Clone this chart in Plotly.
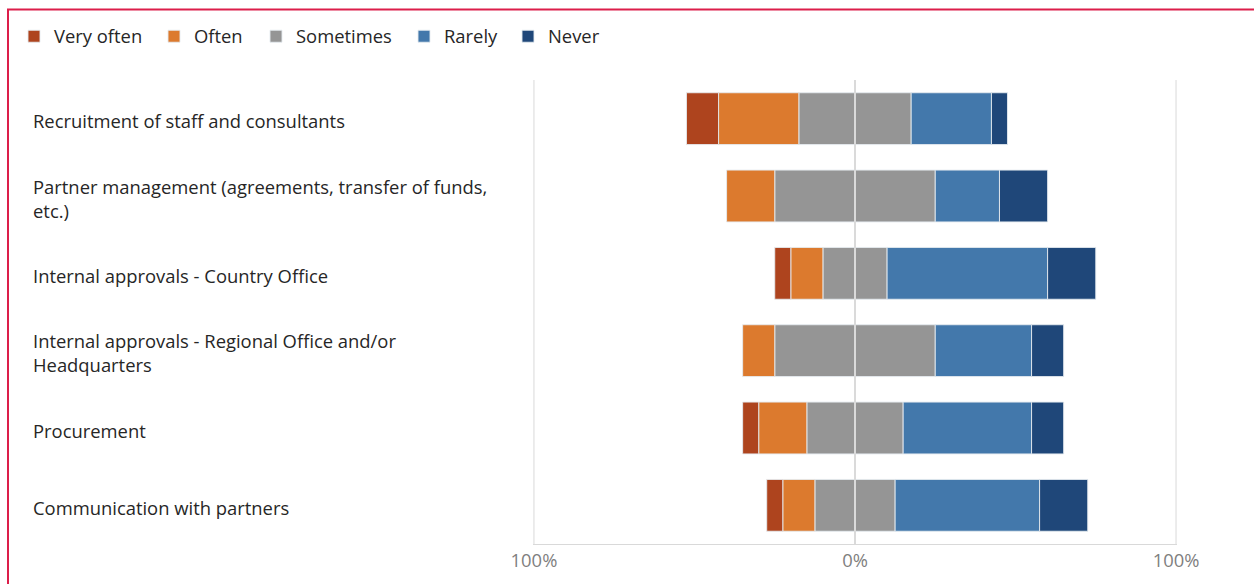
import plotly.graph_objects as go

# Survey results: share of responses per frequency level (percent)
categories = [
    "Recruitment of staff and consultants",
    "Partner management (agreements, transfer of funds,<br>etc.)",
    "Internal approvals - Country Office",
    "Internal approvals - Regional Office and/or<br>Headquarters",
    "Procurement",
    "Communication with partners",
]
very_often = [10, 0, 5, 0, 5, 5]
often = [25, 15, 10, 10, 15, 10]
sometimes = [35, 50, 20, 50, 30, 25]
rarely = [25, 20, 50, 30, 40, 45]
never = [5, 15, 15, 10, 10, 15]

tick_vals = [-100, 0, 100]
tick_text = ["100%", "0%", "100%"]

colors = {
    "Very often": "#AE441E",
    "Often": "#DC7A2E",
    "Sometimes": "#959595",
    "Rarely": "#4378AB",
    "Never": "#1F4779",
}

W, H = 1254, 584
ML, MR, MT, MB = 533, 77, 80, 37
PW = W - ML - MR
PH = H - MT - MB


def px_x(px):
    return (px - ML) / PW


def px_y(py):
    return (H - MB - py) / PH


FONT = "Open Sans"
TEXT_SIZE = 18.4
edge = dict(color="rgba(230,235,240,0.9)", width=1)

fig = go.Figure()

# Negative side stacks outward from zero: half of "Sometimes", then Often, then Very often
half_some = [s / 2 for s in sometimes]
fig.add_trace(go.Bar(y=categories, x=[-v for v in half_some], orientation="h",
                     name="Sometimes", marker=dict(color=colors["Sometimes"], line=edge),
                     showlegend=False, legendgroup="Sometimes"))
fig.add_trace(go.Bar(y=categories, x=[-v for v in often], orientation="h",
                     name="Often", marker=dict(color=colors["Often"], line=edge),
                     legend="legend2"))
fig.add_trace(go.Bar(y=categories, x=[-v for v in very_often], orientation="h",
                     name="Very often", marker=dict(color=colors["Very often"], line=edge),
                     legend="legend"))
# Positive side
fig.add_trace(go.Bar(y=categories, x=half_some, orientation="h",
                     name="Sometimes", marker=dict(color=colors["Sometimes"], line=edge),
                     legend="legend3", legendgroup="Sometimes"))
fig.add_trace(go.Bar(y=categories, x=rarely, orientation="h",
                     name="Rarely", marker=dict(color=colors["Rarely"], line=edge),
                     legend="legend4"))
fig.add_trace(go.Bar(y=categories, x=never, orientation="h",
                     name="Never", marker=dict(color=colors["Never"], line=edge),
                     legend="legend5"))

legend_font = dict(family=FONT, size=TEXT_SIZE, color="#262626")
legend_x_px = [14, 154, 256, 404, 508]
legend_common = dict(orientation="h", yanchor="middle", y=px_y(36), xanchor="left",
                     font=legend_font, bgcolor="rgba(0,0,0,0)", borderwidth=0,
                     itemwidth=30)
legends = {}
for i, lx in enumerate(legend_x_px):
    key = "legend" if i == 0 else f"legend{i + 1}"
    legends[key] = dict(legend_common, x=px_x(lx))

# Category labels, left-aligned
annotations = []
for cat in categories:
    annotations.append(dict(
        x=px_x(31), xref="paper", y=cat, yref="y", text=cat,
        xanchor="left", yanchor="middle", align="left", showarrow=False,
        yshift=-2,
        font=dict(family=FONT, size=TEXT_SIZE, color="#262626"),
    ))

grid_color = "#D9D9D9"
shapes = [
    # outer gridlines at the axis ends
    dict(type="line", xref="x", yref="paper", x0=tick_vals[0], x1=tick_vals[0], y0=0, y1=1,
         line=dict(color=grid_color, width=1), layer="below"),
    dict(type="line", xref="x", yref="paper", x0=tick_vals[-1], x1=tick_vals[-1], y0=0, y1=1,
         line=dict(color=grid_color, width=1), layer="below"),
    # zero line drawn over the bars
    dict(type="line", xref="x", yref="paper", x0=0, x1=0, y0=0, y1=1,
         line=dict(color="#DADADA", width=2), layer="above"),
    # outer frame
    dict(type="rect", xref="paper", yref="paper",
         x0=px_x(8), x1=px_x(1300), y0=px_y(640), y1=px_y(9),
         line=dict(color="#DC1E4A", width=2), layer="above"),
]

fig.update_layout(
    width=W, height=H,
    margin=dict(l=ML, r=MR, t=MT, b=MB),
    barmode="relative",
    bargap=0.33,
    paper_bgcolor="white",
    plot_bgcolor="white",
    font=dict(family=FONT),
    annotations=annotations,
    shapes=shapes,
    **legends,
)
fig.update_xaxes(
    range=[-100.3, 100.3], tickvals=tick_vals, ticktext=tick_text,
    showgrid=False, zeroline=False,
    showline=True, linecolor=grid_color, linewidth=1,
    tickfont=dict(family=FONT, size=TEXT_SIZE, color="#7F7F7F"), ticks="",
    fixedrange=True,
)
fig.update_yaxes(
    autorange="reversed", showticklabels=False, showgrid=False,
    zeroline=False, showline=False, fixedrange=True,
)

fig.write_html("out.html")
